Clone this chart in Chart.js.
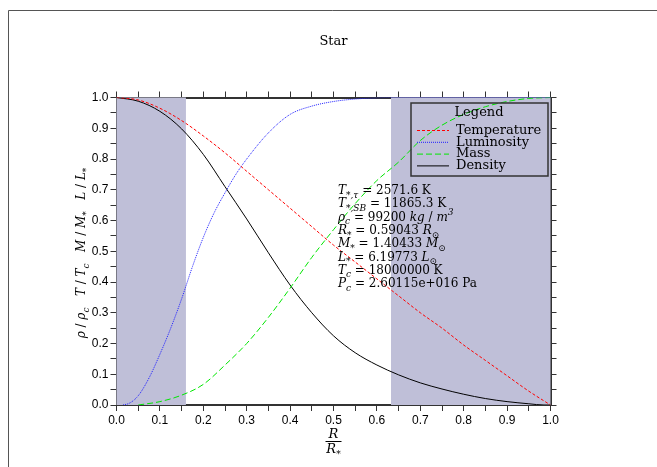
<!DOCTYPE html>
<html>
<head>
<meta charset="utf-8">
<script src="https://cdn.jsdelivr.net/npm/chart.js@4/dist/chart.umd.min.js"></script>
<style>
  html, body { margin: 0; padding: 0; background: #fff; }
  canvas { display: block; }
</style>
</head>
<body>
<canvas id="chart" width="657" height="467"></canvas>
<script>
// radius grids (R / R*) and normalised profiles
const rTemp  = [0, 0.05, 0.1, 0.15, 0.2, 0.25, 0.3, 0.35, 0.4, 0.45, 0.5, 0.55, 0.6, 0.65, 0.7, 0.75, 0.8, 0.85, 0.9, 0.95, 1.0];
const temperature = [1.0, 0.992, 0.965, 0.925, 0.875, 0.82, 0.76, 0.70, 0.64, 0.58, 0.52, 0.465, 0.41, 0.355, 0.30, 0.25, 0.195, 0.145, 0.095, 0.045, 0.0];

const rLum = [0.015, 0.03, 0.05, 0.075, 0.1, 0.125, 0.15, 0.175, 0.2, 0.225, 0.25, 0.275, 0.3, 0.35, 0.4, 0.45, 0.5, 0.55, 0.6, 0.65, 0.7, 0.8, 0.9, 1.0];
const luminosity = [0.0, 0.006, 0.03, 0.088, 0.165, 0.25, 0.345, 0.45, 0.545, 0.625, 0.69, 0.75, 0.80, 0.885, 0.945, 0.972, 0.987, 0.995, 0.999, 1.0, 1.0, 1.0, 1.0, 1.0];

const rMass = [0.05, 0.1, 0.15, 0.2, 0.25, 0.3, 0.35, 0.4, 0.45, 0.5, 0.55, 0.6, 0.65, 0.7, 0.75, 0.8, 0.85, 0.9, 0.95, 1.0];
const mass = [0.0, 0.011, 0.032, 0.067, 0.13, 0.20, 0.285, 0.38, 0.48, 0.57, 0.655, 0.73, 0.79, 0.86, 0.91, 0.945, 0.97, 0.987, 0.997, 1.0];

const rDens = [0, 0.05, 0.1, 0.15, 0.2, 0.25, 0.3, 0.35, 0.4, 0.45, 0.5, 0.55, 0.6, 0.65, 0.7, 0.75, 0.8, 0.85, 0.9, 0.95, 0.985, 1.0];
const density = [1.0, 0.988, 0.955, 0.898, 0.815, 0.71, 0.605, 0.495, 0.39, 0.30, 0.225, 0.17, 0.13, 0.098, 0.072, 0.052, 0.035, 0.021, 0.011, 0.004, 0.0, 0.0];

// shaded radius bands
const bands = [[0, 0.16], [0.6325, 1.0]];

const seriesNames = ["Temperature", "Luminosity", "Mass", "Density"];

// text block: [text, style]  r = roman, i = italic, b = subscript, p = superscript
const infoLines = [
  [["T","i"],["*,τ","b"],[" = 2571.6 K","r"]],
  [["T","i"],["*,SB","b"],[" = 11865.3 K","r"]],
  [["ρ","i"],["c","b"],[" = 99200 ","r"],["kg","i"],[" / ","r"],["m","i"],["3","p"]],
  [["R","i"],["*","b"],[" = 0.59043 ","r"],["R","i"],["⊙","b"]],
  [["M","i"],["*","b"],[" = 1.40433 ","r"],["M","i"],["⊙","b"]],
  [["L","i"],["*","b"],[" = 6.19773 ","r"],["L","i"],["⊙","b"]],
  [["T","i"],["c","b"],[" = 18000000 K","r"]],
  [["P","i"],["c","b"],[" = 2.60115e+016 Pa","r"]]
];
const yTitle = [["ρ","i"],[" / ","r"],["ρ","i"],["c","b"],["   ","r"],["T","i"],[" / ","r"],["T","i"],["c","b"],["   ","r"],
                ["M","i"],[" / ","r"],["M","i"],["*","b"],["   ","r"],["L","i"],[" / ","r"],["L","i"],["*","b"]];

const SERIF = '"DejaVu Serif", serif';
const AXIS = "#333";

function pts(xs, ys) { return xs.map((x, i) => ({ x, y: ys[i] })); }

function setFont(ctx, style, size) {
  const small = Math.round(size * 0.72);
  if (style === "r") ctx.font = `${size}px ${SERIF}`;
  else if (style === "i") ctx.font = `italic ${size}px ${SERIF}`;
  else ctx.font = `italic ${small}px ${SERIF}`;
}
function richWidth(ctx, parts, size) {
  let w = 0;
  for (const [t, s] of parts) { setFont(ctx, s, size); w += ctx.measureText(t).width; }
  return w;
}
function drawRich(ctx, x, y, parts, size) {
  ctx.textBaseline = "alphabetic";
  ctx.textAlign = "left";
  for (const [t, s] of parts) {
    setFont(ctx, s, size);
    const dy = s === "b" ? size * 0.3 : s === "p" ? -size * 0.45 : 0;
    ctx.fillText(t, x, y + dy);
    x += ctx.measureText(t).width;
  }
}

const decor = {
  id: "decor",
  beforeDatasetsDraw(chart) {
    const { ctx, scales: { x, y } } = chart;
    ctx.save();
    ctx.fillStyle = "#bfbfd8";
    for (const [a, b] of bands) {
      const x0 = x.getPixelForValue(a), x1 = x.getPixelForValue(b);
      const y0 = y.getPixelForValue(1), y1 = y.getPixelForValue(0);
      ctx.fillRect(x0, y0, x1 - x0, y1 - y0);
    }
    ctx.restore();
  },
  afterDraw(chart) {
    const { ctx, chartArea: ca } = chart;
    ctx.save();
    // page frame
    ctx.strokeStyle = "#555";
    ctx.lineWidth = 1;
    ctx.beginPath();
    ctx.moveTo(8.5, 467); ctx.lineTo(8.5, 10.5); ctx.lineTo(657, 10.5);
    ctx.stroke();

    ctx.fillStyle = "#000";
    // title
    ctx.font = `13px ${SERIF}`;
    ctx.textAlign = "center";
    ctx.textBaseline = "middle";
    ctx.fillText("Star", (ca.left + ca.right) / 2, 42);

    // x title as fraction R / R*
    const cx = (ca.left + ca.right) / 2;
    ctx.font = `italic 13px ${SERIF}`;
    ctx.fillText("R", cx, 435);
    ctx.strokeStyle = "#000";
    ctx.lineWidth = 1;
    ctx.beginPath(); ctx.moveTo(cx - 8, 441.5); ctx.lineTo(cx + 8, 441.5); ctx.stroke();
    const rs = [["R","i"],["*","b"]];
    drawRich(ctx, cx - richWidth(ctx, rs, 13) / 2, 453, rs, 13);

    // y title, rotated
    ctx.save();
    ctx.translate(85, 253);
    ctx.rotate(-Math.PI / 2);
    const yw = richWidth(ctx, yTitle, 12);
    drawRich(ctx, -yw / 2, 0, yTitle, 12);
    ctx.restore();

    // info block
    infoLines.forEach((line, i) => drawRich(ctx, 338, 194 + i * 13.3, line, 12));

    // legend box
    ctx.strokeStyle = "#333";
    ctx.lineWidth = 1.5;
    ctx.strokeRect(411, 103, 137, 73);
    ctx.font = `13px ${SERIF}`;
    ctx.textAlign = "center";
    ctx.textBaseline = "middle";
    ctx.fillText("Legend", 479, 113);
    ctx.textAlign = "left";
    chart.data.datasets.forEach((ds, i) => {
      const ly = 130.5 + i * 11.8;
      ctx.strokeStyle = ds.borderColor;
      ctx.lineWidth = ds.borderWidth;
      ctx.setLineDash(ds.borderDash || []);
      ctx.beginPath(); ctx.moveTo(417, ly); ctx.lineTo(449, ly); ctx.stroke();
      ctx.setLineDash([]);
      ctx.fillText(ds.label, 456, ly);
    });
    ctx.restore();
  }
};

const tickLabel = v => {
  const t = v * 10;
  return Math.abs(t - Math.round(t)) < 1e-6 ? (Math.round(t) / 10).toFixed(1) : "";
};
const axisBase = (pos, showLabels) => ({
  type: "linear", position: pos, min: 0, max: 1,
  border: { display: true, color: AXIS, width: 2 },
  grid: { drawOnChartArea: false, drawTicks: true, tickLength: 6, tickColor: AXIS, tickWidth: 1 },
  ticks: {
    stepSize: 0.05, autoSkip: false, maxRotation: 0, color: "#000",
    font: { family: '"Liberation Sans", Arial, sans-serif', size: 12 },
    padding: 2,
    callback: showLabels ? tickLabel : () => ""
  }
});

new Chart(document.getElementById("chart").getContext("2d"), {
  type: "line",
  data: {
    datasets: [
      { label: seriesNames[0], data: pts(rTemp, temperature), borderColor: "#ff0000", borderDash: [3, 2] },
      { label: seriesNames[1], data: pts(rLum, luminosity),   borderColor: "#2020ff", borderDash: [1, 1] },
      { label: seriesNames[2], data: pts(rMass, mass),        borderColor: "#00e600", borderDash: [6, 3] },
      { label: seriesNames[3], data: pts(rDens, density),     borderColor: "#000000" }
    ].map(d => ({ ...d, borderWidth: 1, pointRadius: 0, fill: false, cubicInterpolationMode: "monotone", xAxisID: "x", yAxisID: "y" }))
  },
  options: {
    responsive: false,
    animation: false,
    layout: { padding: { left: 0, top: 87.5, right: 96.5, bottom: 32 } },
    plugins: { legend: { display: false }, title: { display: false }, tooltip: { enabled: false } },
    scales: {
      x:  { ...axisBase("bottom", true),  afterFit: s => { s.height = 30; } },
      x2: { ...axisBase("top", false),    afterFit: s => { s.height = 10; } },
      y:  { ...axisBase("left", true),    afterFit: s => { s.width = 116.5; } },
      y2: { ...axisBase("right", false),  afterFit: s => { s.width = 10; } }
    }
  },
  plugins: [decor]
});
</script>
</body>
</html>
